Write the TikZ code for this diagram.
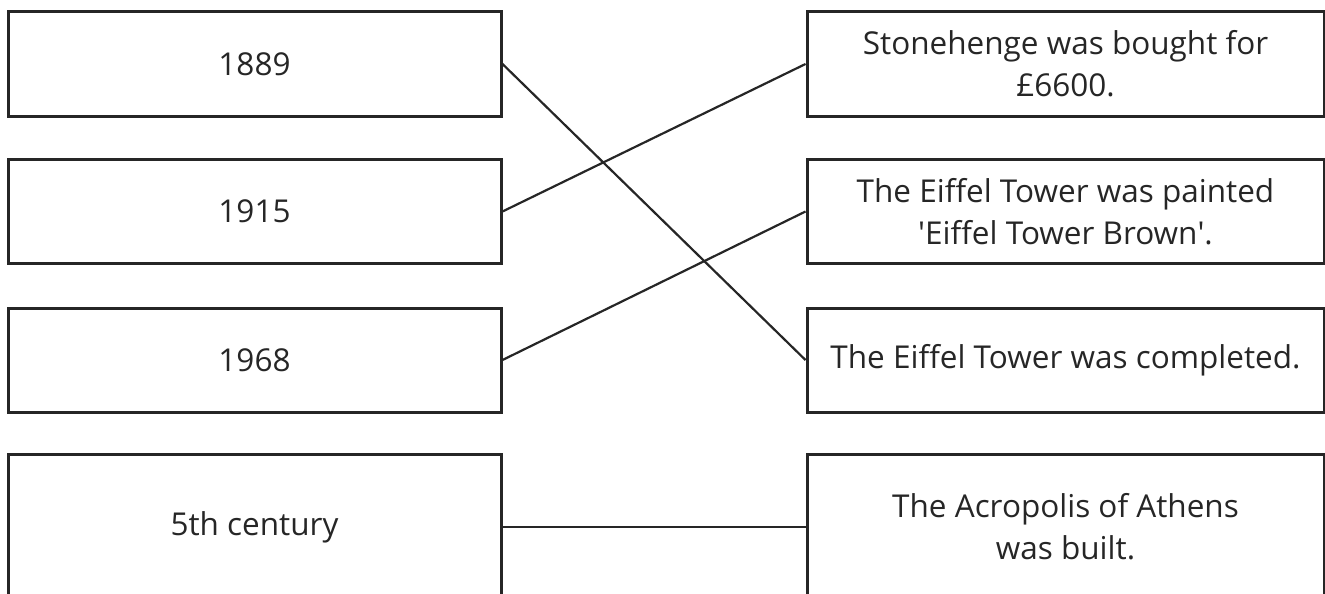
\documentclass[tikz,border=0pt]{standalone}
\usepackage{fontspec}
\setmainfont{Open Sans}
\definecolor{inkgrey}{HTML}{262626}
\tikzset{datebox/.style={draw=inkgrey, line width=3pt, minimum width=493pt, minimum height=104pt, inner sep=0pt, text=inkgrey, font=\fontsize{31.5}{42}\selectfont}}
\tikzset{factbox/.style={datebox, minimum width=517pt, align=center}}
\tikzset{matchline/.style={draw=inkgrey, line width=2.2pt}}

\begin{document}
\begin{tikzpicture}[x=1pt, y=-1pt]
        \useasboundingbox (0,0) rectangle (1325,594);
        % left column: dates
        \node [datebox] (d1889) at (254.5,64) {1889};
        \node [datebox] (d1915) at (254.5,211.5) {1915};
        \node [datebox] (d1968) at (254.5,360) {1968};
        \node [datebox, minimum height=146pt] (dfifth) at (254.5,527) {5th century};
        % right column: events
        \node [factbox] (stone) at (1065.5,64) {Stonehenge was bought for\\£6600.};
        \node [factbox] (paint) at (1065.5,211.5) {The Eiffel Tower was painted\\\textquotesingle Eiffel Tower Brown\textquotesingle.};
        \node [factbox] (built) at (1065.5,360) {The Eiffel Tower was completed.};
        \node [factbox, minimum height=146pt] (acro) at (1065.5,527) {The Acropolis of Athens\\was built.};
        % answers
        \draw [matchline] (d1889.east) -- (built.west);
        \draw [matchline] (d1915.east) -- (stone.west);
        \draw [matchline] (d1968.east) -- (paint.west);
        \draw [matchline] (dfifth.east) -- (acro.west);
    \end{tikzpicture}
\end{document}
